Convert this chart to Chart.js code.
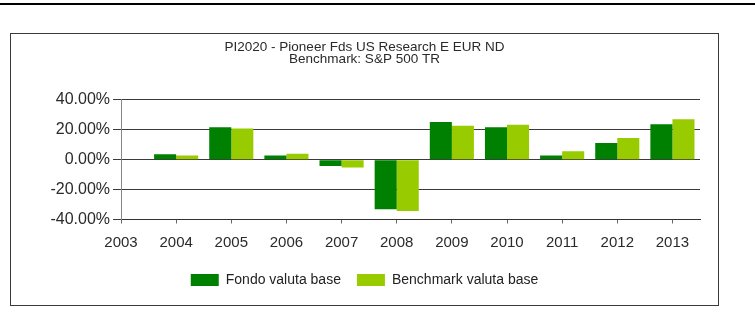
<!DOCTYPE html>
<html>
<head>
<meta charset="utf-8">
<script src="https://cdn.jsdelivr.net/npm/chart.js@4"></script>
<style>
  html, body { margin: 0; padding: 0; background: #fff; }
  body { width: 755px; height: 331px; position: relative; overflow: hidden; font-family: "Liberation Sans", Arial, sans-serif; }
  .topline { position: absolute; left: 0; top: 3px; width: 755px; height: 2px; background: #000; }
  .box {
    position: absolute; left: 10px; top: 33px; width: 707px; height: 271px;
    border: 1px solid #3a3a3a; background: #fff;
  }
  .box .wrap { position: relative; width: 707px; height: 271px; }
</style>
</head>
<body>
<div class="topline"></div>
<div class="box"><div class="wrap"><canvas id="chart"></canvas></div></div>
<script>
const years = [2004, 2005, 2006, 2007, 2008, 2009, 2010, 2011, 2012, 2013];
const fondo = [3.7, 21.7, 2.8, -4.3, -33.2, 25.2, 21.7, 2.8, 11.1, 23.6];
const benchmark = [2.8, 20.8, 3.9, -5.2, -34.3, 22.6, 23.4, 5.6, 14.5, 27.1];
const titleLines = ['PI2020 - Pioneer Fds US Research E EUR ND', 'Benchmark: S&P 500 TR'];
const seriesNames = ['Fondo valuta base', 'Benchmark valuta base'];
const yTicks = [-40, -20, 0, 20, 40];

const toPoints = (vals) => vals.map((v, i) => ({ x: years[i], y: v }));

new Chart(document.getElementById('chart'), {
    type: 'bar',
    data: {
        datasets: [
            { label: seriesNames[0], data: toPoints(fondo), backgroundColor: '#008000' },
            { label: seriesNames[1], data: toPoints(benchmark), backgroundColor: '#99cc00' }
        ]
    },
    options: {
        responsive: true,
        maintainAspectRatio: false,
        animation: false,
        categoryPercentage: 0.8,
        barPercentage: 1.0,
        layout: { padding: { left: 0, right: 0, top: 0, bottom: 8 } },
        plugins: {
            title: {
                display: true,
                text: titleLines,
                color: '#2a2a2a',
                font: { family: 'Liberation Sans', size: 13.5, weight: 'normal', lineHeight: 0.92 },
                padding: { top: 7, bottom: 34 }
            },
            legend: {
                position: 'bottom',
                labels: {
                    boxWidth: 28,
                    boxHeight: 12,
                    padding: 16,
                    color: '#222',
                    font: { family: 'Liberation Sans', size: 14 }
                }
            },
            tooltip: { enabled: false }
        },
        scales: {
            x: {
                type: 'linear',
                offset: false,
                min: 2003,
                max: 2013.5,
                afterFit: (scale) => { scale.height = 37.5; },
                ticks: {
                    stepSize: 1,
                    includeBounds: false,
                    padding: 10,
                    color: '#2a2a2a',
                    font: { family: 'Liberation Sans', size: 15 },
                    maxRotation: 0,
                    callback: (v) => String(v)
                },
                grid: { offset: false, drawOnChartArea: false, tickLength: 4, color: '#666' },
                border: { color: '#333', width: 1 }
            },
            y: {
                min: -40,
                max: 40,
                afterFit: (scale) => { scale.width = 110; },
                afterBuildTicks: (scale) => { scale.ticks = yTicks.map(v => ({ value: v })); },
                ticks: {
                    padding: 3,
                    color: '#2a2a2a',
                    font: { family: 'Liberation Sans', size: 16 },
                    callback: (v) => v.toFixed(2) + '%'
                },
                grid: { color: '#3a3a3a', tickLength: 8, lineWidth: 1 },
                border: { color: '#888', width: 1 }
            },
            // empty right-hand margin so the legend stays centred in the frame
            yRight: {
                position: 'right',
                min: -40,
                max: 40,
                afterFit: (scale) => { scale.width = 18; },
                ticks: { display: false },
                grid: { display: false },
                border: { display: false }
            }
        }
    }
});
</script>
</body>
</html>
